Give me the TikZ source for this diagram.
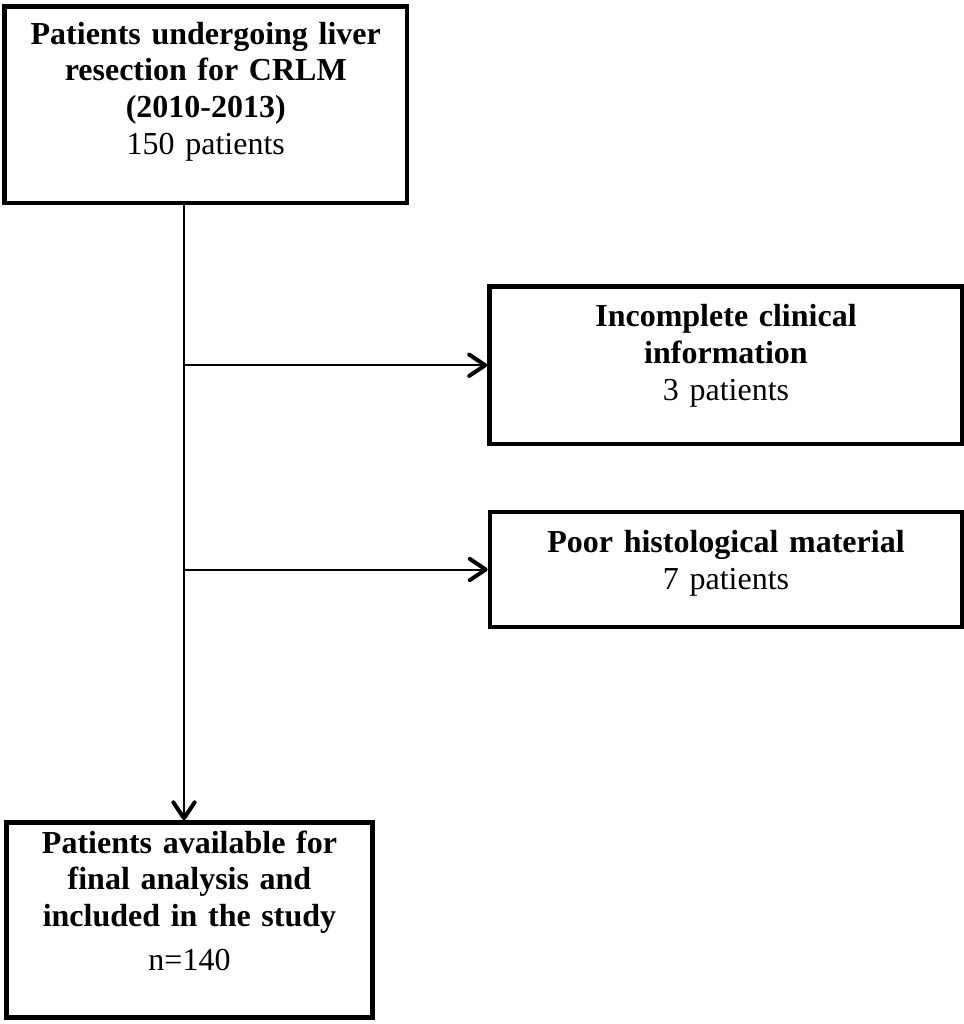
\documentclass[tikz,border=0pt]{standalone}
\usepackage{fontspec}
\setmainfont{Liberation Serif}
\usetikzlibrary{arrows.meta}
\tikzset{padbelow/.style={execute at end node={\par\vspace*{#1}}}}

\begin{document}
\begin{tikzpicture}[x=0.375pt,y=-0.375pt]
\tikzstyle{every node}+=[font=\fontsize{12pt}{13.8pt}\selectfont]
\tikzstyle{flowbox}=[draw,line width=1.7pt,rectangle,align=center,inner xsep=4pt,inner ysep=1pt]
\tikzstyle{feed}=[line width=0.75pt,-{Straight Barb[length=6pt,width=8pt,line width=1.5pt,round]}]
\useasboundingbox (0,0) rectangle (964,1024);
\node [flowbox,minimum width=150.9pt,minimum height=73.7pt,text width=140pt,padbelow=9.9pt] (top) at (205.75,104.75) {\textbf{Patients undergoing liver}\\ \textbf{resection for CRLM}\\ \textbf{(2010-2013)}\\ 150 patients};
\node [flowbox,minimum width=177.4pt,minimum height=59.1pt,text width=168pt,padbelow=6.9pt] (incomp) at (726,365.25) {\textbf{Incomplete clinical}\\ \textbf{information}\\ 3 patients};
\node [flowbox,minimum width=177pt,minimum height=43.1pt,text width=168pt,padbelow=4.5pt] (poor) at (726,569.5) {\textbf{Poor histological material}\\ 7 patients};
\node [flowbox,minimum width=137.25pt,minimum height=73.1pt,text width=128pt,padbelow=14.6pt] (final) at (189.5,920) {\textbf{Patients available for}\\ \textbf{final analysis and}\\ \textbf{included in the study}\\[2.5pt] n=140};
\coordinate (trunk) at (184,0);
\coordinate (j1) at (trunk |- incomp);
\coordinate (j2) at (trunk |- poor);
\draw [feed] (top.south -| trunk) -- (final.north -| trunk);
\draw [feed] (j1) -- (incomp.west);
\draw [feed] (j2) -- (poor.west);
\end{tikzpicture}
\end{document}
